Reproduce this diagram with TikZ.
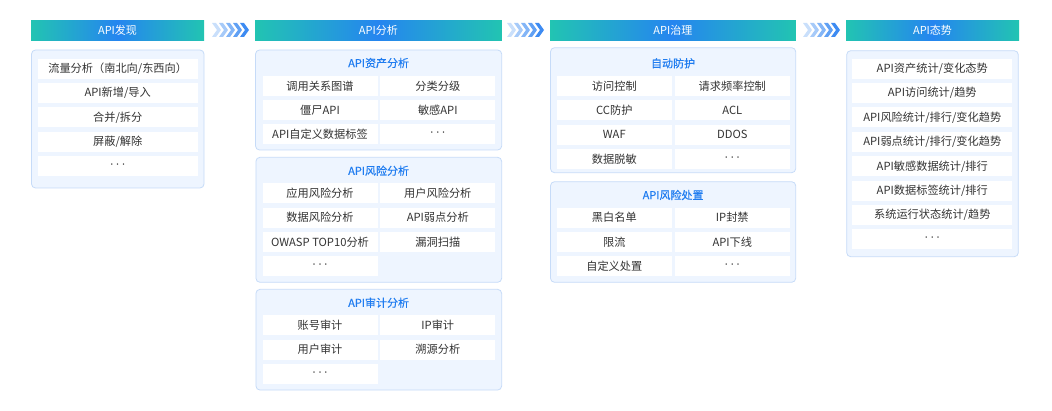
\documentclass[tikz,border=0pt]{standalone}
\usepackage{fontspec}
\setmainfont{Noto Sans CJK SC}
\newfontfamily\dotfont{Noto Sans}
\newfontfamily\titlefont[FakeBold=0.4]{Noto Sans CJK SC}
\usepackage{xcolor}
\usepackage{tikz}
\usetikzlibrary{shapes.geometric, arrows}

\definecolor{hdrteal}{HTML}{22C4B2}
\definecolor{hdrblue}{HTML}{2585F0}
\definecolor{panelfill}{HTML}{EEF5FF}
\definecolor{panelline}{HTML}{C6DBF8}
\definecolor{itemtext}{HTML}{333333}
\definecolor{titleblue}{HTML}{1F7CF0}
\definecolor{chevblue}{HTML}{3D8BF2}

\newcommand{\moredots}{\raisebox{-1.5pt}{\dotfont · · ·}}

\begin{document}
\begin{tikzpicture}[
    x=1pt, y=-1pt,
    hdr/.style={rectangle, left color=hdrteal, right color=hdrteal, middle color=hdrblue, text=white, minimum height=20pt, inner sep=0pt, font=\fontsize{11}{13}\selectfont},
    panel/.style={rectangle, draw=panelline, fill=panelfill, line width=0.8pt, rounded corners=4pt, inner sep=0pt},
    grouptitle/.style={text=titleblue, inner sep=0pt, font=\titlefont\fontsize{11}{13}\selectfont},
    item/.style={rectangle, fill=white, text=itemtext, minimum width=115pt, minimum height=20pt, inner sep=0pt, font=\fontsize{11.2}{13}\selectfont},
    wide/.style={item, minimum width=160pt}
]
\useasboundingbox (0,0) rectangle (1052,411);

% Stage headers
\node[hdr, minimum width=173pt] (discover) at (117.5,30.5) {API发现};
\node[hdr, minimum width=246.7pt] (analysis) at (378.4,30.5) {API分析};
\node[hdr, minimum width=245.7pt] (govern) at (672.9,30.5) {API治理};
\node[hdr, minimum width=173pt] (posture) at (932.5,30.5) {API态势};

% Chevrons between stages
\foreach \cx in {212,507,803}
  \foreach \i in {0,...,4}{
    \pgfmathtruncatemacro{\chevpct}{28+18*\i}
    \fill[chevblue!\chevpct] ({\cx+7*\i},23) -- ++(4,0) -- ++(5,7) -- ++(-5,7) -- ++(-4,0) -- ++(5,-7) -- cycle;
  }

% Panels
\node[panel, minimum width=172.5pt, minimum height=138pt] (discpanel) at (117.75,119) {};
\node[panel, minimum width=246.2pt, minimum height=100pt] (assetpanel) at (378.6,100) {};
\node[panel, minimum width=245.7pt, minimum height=125pt] (riskpanel) at (378.8,219.8) {};
\node[panel, minimum width=245.7pt, minimum height=100.7pt] (auditpanel) at (378.8,339.7) {};
\node[panel, minimum width=245.2pt, minimum height=125pt] (protectpanel) at (673.1,110.2) {};
\node[panel, minimum width=245.2pt, minimum height=100.6pt] (handlepanel) at (673.1,232) {};
\node[panel, minimum width=171.6pt, minimum height=206pt] (posturepanel) at (932.5,153.7) {};

% API discovery
\node[wide] (traffic) at (117.7,68.7) {流量分析（南北向/东西向）};
\node[wide] (newapi) at (117.7,93) {API新增/导入};
\node[wide] (merge) at (117.7,117.3) {合并/拆分};
\node[wide] (mask) at (117.7,141.6) {屏蔽/解除};
\node[wide] (discmore) at (117.7,165.9) {\moredots};

% API analysis: assets
\node[grouptitle] (assettitle) at (378.6,63) {API资产分析};
\node[item] (callgraph) at (320,86) {调用关系图谱};
\node[item] (classify) at (437.8,86) {分类分级};
\node[item] (zombie) at (320,110.2) {僵尸API};
\node[item] (sensitive) at (437.8,110.2) {敏感API};
\node[item] (customtag) at (320,134.4) {API自定义数据标签};
\node[item] (assetmore) at (437.8,134.4) {\moredots};

% API analysis: risks
\node[grouptitle] (risktitle) at (378.6,170.7) {API风险分析};
\node[item] (apprisk) at (320,193.3) {应用风险分析};
\node[item] (userrisk) at (437.8,193.3) {用户风险分析};
\node[item] (datarisk) at (320,217.7) {数据风险分析};
\node[item] (weakness) at (437.8,217.7) {API弱点分析};
\node[item] (owasp) at (320,242) {OWASP TOP10分析};
\node[item] (vulscan) at (437.8,242) {漏洞扫描};
\node[item] (riskmore) at (320,266.3) {\moredots};

% API analysis: audit
\node[grouptitle] (audittitle) at (378.6,302.7) {API审计分析};
\node[item] (account) at (320,325.3) {账号审计};
\node[item] (ipaudit) at (437.8,325.3) {IP审计};
\node[item] (useraudit) at (320,349.6) {用户审计};
\node[item] (trace) at (437.8,349.6) {溯源分析};
\node[item] (auditmore) at (320,373.8) {\moredots};

% API governance: protection
\node[grouptitle] (protecttitle) at (673.1,63.3) {自动防护};
\node[item] (access) at (614.3,86) {访问控制};
\node[item] (ratelimit) at (732.3,86) {请求频率控制};
\node[item] (ccguard) at (614.3,110.3) {CC防护};
\node[item] (acl) at (732.3,110.3) {ACL};
\node[item] (waf) at (614.3,134.6) {WAF};
\node[item] (ddos) at (732.3,134.6) {DDOS};
\node[item] (desense) at (614.3,158.9) {数据脱敏};
\node[item] (protectmore) at (732.3,158.9) {\moredots};

% API governance: risk handling
\node[grouptitle] (handletitle) at (673.1,195) {API风险处置};
\node[item] (blackwhite) at (614.3,217.7) {黑白名单};
\node[item] (ipban) at (732.3,217.7) {IP封禁};
\node[item] (throttle) at (614.3,242) {限流};
\node[item] (offline) at (732.3,242) {API下线};
\node[item] (customhandle) at (614.3,266.3) {自定义处置};
\node[item] (handlemore) at (732.3,266.3) {\moredots};

% API posture
\node[wide] (assetstat) at (932.3,68.7) {API资产统计/变化态势};
\node[wide] (accessstat) at (932.3,93.1) {API访问统计/趋势};
\node[wide] (riskstat) at (932.3,117.5) {API风险统计/排行/变化趋势};
\node[wide] (weakstat) at (932.3,141.9) {API弱点统计/排行/变化趋势};
\node[wide] (sensstat) at (932.3,166.3) {API敏感数据统计/排行};
\node[wide] (tagstat) at (932.3,190.7) {API数据标签统计/排行};
\node[wide] (sysstat) at (932.3,215.1) {系统运行状态统计/趋势};
\node[wide] (posturemore) at (932.3,239.5) {\moredots};

\end{tikzpicture}
\end{document}
